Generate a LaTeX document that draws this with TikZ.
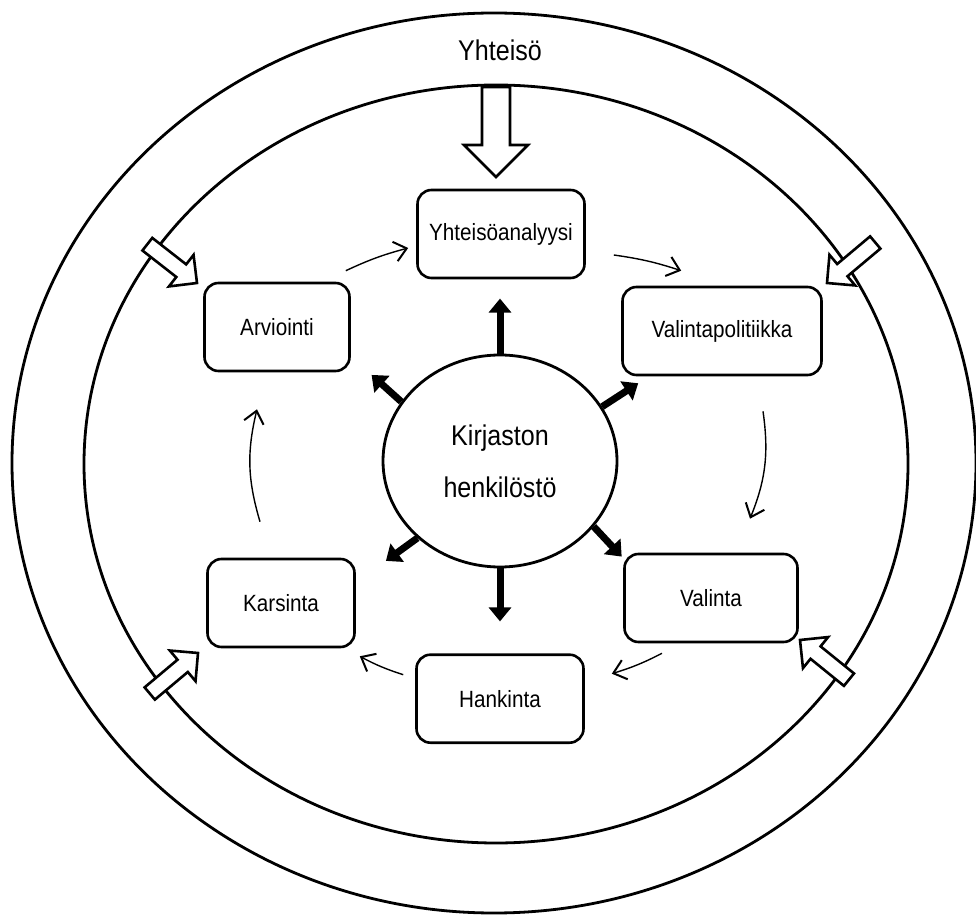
\documentclass[tikz,border=0pt]{standalone}
\usepackage{fontspec}
\setmainfont{Liberation Sans}[FakeStretch=0.88]
\usetikzlibrary{arrows.meta,shapes.geometric,calc,positioning}

\begin{document}
\begin{tikzpicture}[x=1pt,y=1pt,
    ring/.style={draw,ellipse,line width=2.8pt,inner sep=0pt},
    stage/.style={draw,line width=2.6pt,rounded corners=14pt,minimum width=#1,
      minimum height=88pt,inner sep=0pt,font=\fontsize{23.5}{28}\selectfont},
    cyc/.style={line width=1.4pt,-{Straight Barb[length=12pt,width=20pt,line width=2pt]}},
    push/.style={line width=7pt,-{Triangle[length=14pt,width=22pt]}},
    pics/inflow/.style n args={4}{code={
      \draw[line width=2.6pt,fill=white,line join=miter]
        (-#1,#2) -- (-#4,#2) -- (-#4,#3) -- (0,0) -- (-#4,-#3) -- (-#4,-#2) -- (-#1,-#2) -- cycle;}}]
 \useasboundingbox (0,0) rectangle (976,916);
 % the two rings
 \node[ring,minimum width=964pt,minimum height=900pt] (world) at (494,453) {};
 \node[ring,minimum width=824pt,minimum height=758pt] (lib) at (496,452) {};
 \node[font=\fontsize{28.5}{34}\selectfont] (yhteiso) at (500,866) {Yhteisö};
 % influence from outside
 \pic[rotate=-90] at (496,739) {inflow={90}{14}{32}{32}};
 \pic[rotate=-38] at (197,633) {inflow={63}{8}{20}{20}};
 \pic[rotate=-140] at (827,633) {inflow={63}{8}{20}{20}};
 \pic[rotate=40] at (198,263) {inflow={63}{8}{20}{20}};
 \pic[rotate=141] at (800,276) {inflow={63}{8}{20}{20}};
 % staff in the middle
 \node[ring,minimum width=234pt,minimum height=212pt,align=center,
   font=\fontsize{28.5}{52}\selectfont] (staff) at (500,455) {Kirjaston\\henkilöstö};
 % the stages
 \node[stage=167pt] (yht) at (501,682) {Yhteisöanalyysi};
 \node[stage=145pt] (arv) at (277,589) {Arviointi};
 \node[stage=199pt] (vpol) at (722,585) {Valintapolitiikka};
 \node[stage=173pt] (val) at (711,318) {Valinta};
 \node[stage=147pt] (kar) at (281,313) {Karsinta};
 \node[stage=167pt,below=85pt of staff] (han) {Hankinta};
 % cycle
 \draw[cyc] ($(arv.north east)+(-5,11)$) to[bend left=5] ($(yht.west)+(-8,-14)$);
 \draw[cyc] ($(yht.east)+(28,-21)$) to[bend left=5] ($(vpol.north west)+(60,15)$);
 \draw[cyc] ($(vpol.south)+(41,-35)$) to[bend left=15] ($(val.north)+(39,34)$);
 \draw[cyc] ($(val.south)+(-49,-10)$) to[bend left=5] ($(han.east)+(27,25)$);
 \draw[cyc] ($(han.west)+(-12,24)$) to[bend left=5] ($(kar.south east)+(4,-8)$);
 \draw[cyc] ($(kar.north)+(-21,36)$) to[bend left=15] ($(arv.south)+(-20,-37)$);
 % staff works on every stage
 \foreach \a/\d/\l in {90/90/55, 149/138/40, 28/33/43, 223/216/39, 325/313/41, 270/270/53}
   \draw[push] (staff.\a) -- ++(\d:\l);
\end{tikzpicture}
\end{document}
